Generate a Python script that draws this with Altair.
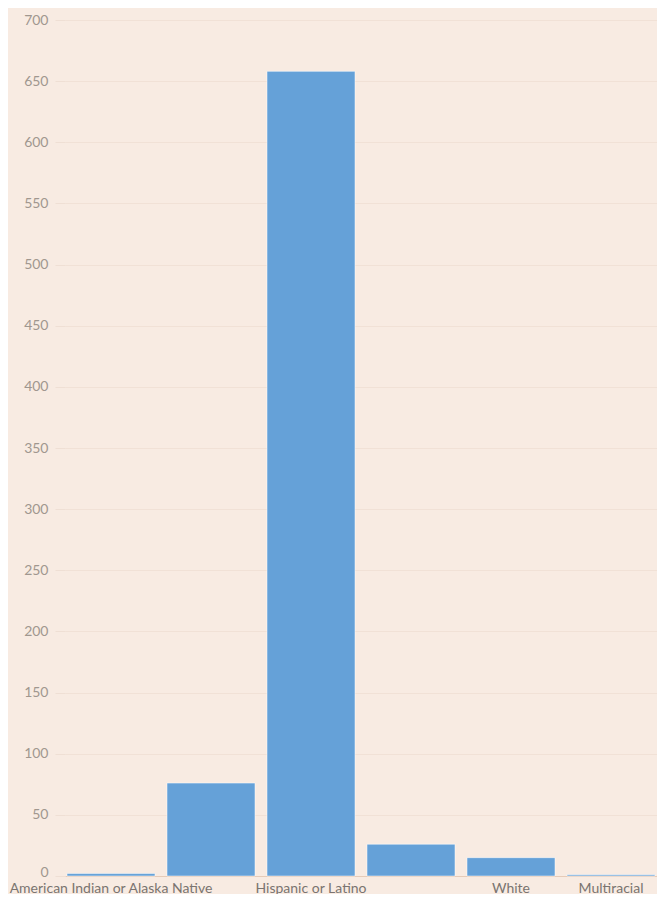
import altair as alt
import pandas as pd

categories = [
    "American Indian or Alaska Native",
    "Asian",
    "Hispanic or Latino",
    "Black or African American",
    "White",
    "Multiracial",
]
values = [2, 76, 658, 26, 15, 1]
y_ticks = list(range(0, 701, 50))

df = pd.DataFrame({"group": categories, "count": values})

chart = (
    alt.Chart(df)
    .mark_bar(color="#65a1d8", stroke="#ffffff", strokeWidth=1, strokeOpacity=0.5)
    .encode(
        x=alt.X(
            "group:N",
            sort=categories,
            title=None,
            scale=alt.Scale(paddingInner=0.12, paddingOuter=0.02),
            axis=alt.Axis(
                labelAngle=0,
                labelOverlap="greedy",
                labelLimit=0,
                labelFont="Lato",
                labelFontSize=14,
                labelColor="#7a7470",
                labelPadding=5,
                ticks=False,
                domainColor="#e6cbb8",
                domainWidth=1,
                grid=False,
            ),
        ),
        y=alt.Y(
            "count:Q",
            title=None,
            scale=alt.Scale(domain=[0, 700], nice=False),
            axis=alt.Axis(
                values=y_ticks,
                labelFont="Lato",
                labelFontSize=14,
                labelColor="#a0978f",
                labelPadding=7,
                labelOffset={"condition": {"test": "datum.value === 0", "value": -4}, "value": 0},
                tickColor="#efdfd4",
                tickSize=10,
                gridColor="#f1e1d6",
                gridWidth=1,
                domain=False,
            ),
        ),
    )
    .properties(
        width=592,
        height=856,
        background="#f8ebe2",
        autosize=alt.AutoSizeParams(type="none"),
        padding={"left": 57, "top": 12, "right": 0, "bottom": 18},
    )
    .configure_view(strokeWidth=0)
)

chart.save("out.html", embed_options={"renderer": "svg", "actions": False})
